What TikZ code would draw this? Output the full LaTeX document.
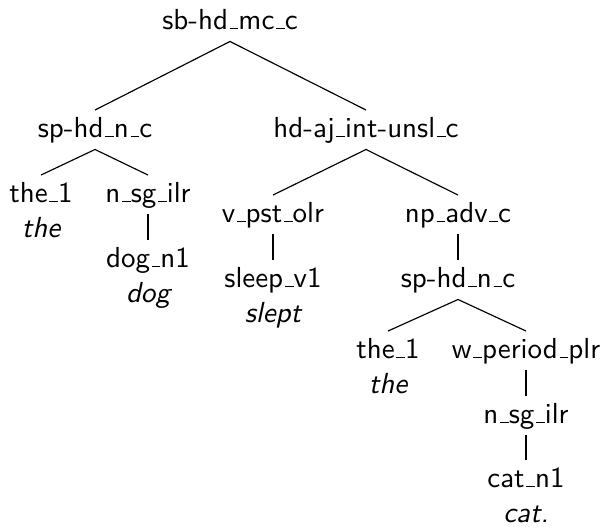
\documentclass[tikz,border=0pt]{standalone}
\usepackage{tikz}
\usetikzlibrary{positioning}

\newcommand\us{\leavevmode\kern.06em\vbox{\hrule width.3em}}

\begin{document}
\begin{tikzpicture}[
  x=0.3448pt, y=-0.3448pt,
  tnode/.style={
    font=\sffamily, anchor=base, inner xsep=0pt, inner ysep=2pt,
    text height=7.1pt, text depth=2.1pt
  },
  word/.style={
    font=\sffamily\itshape, inner xsep=0pt, inner ysep=0pt,
    text height=7.1pt, text depth=2.1pt
  },
  branch/.style={line width=.4pt}
]
\useasboundingbox (0,0) rectangle (604,526);

\node (root)  [tnode] at (230,29)  {sb-hd\us mc\us c};

\node (sphdA) [tnode] at (95,137)  {sp-hd\us n\us c};
\node (hdaj)  [tnode] at (366,137) {hd-aj\us int-unsl\us c};

\node (theA)  [tnode] at (41,202)  {the\us 1};
\node (wtheA) [word, below=0.8pt of theA] {the};
\node (nsgA)  [tnode] at (148,202) {n\us sg\us ilr};
\node (dogA)  [tnode] at (148,267) {dog\us n1};
\node (wdog)  [word, below=0.8pt of dogA] {dog};

\node (vpst)  [tnode] at (273,222) {v\us pst\us olr};
\node (sleep) [tnode] at (273,287) {sleep\us v1};
\node (wslept)[word, below=0.8pt of sleep] {slept};

\node (npadv) [tnode] at (458,222) {np\us adv\us c};
\node (sphdB) [tnode] at (458,287) {sp-hd\us n\us c};

\node (theB)  [tnode] at (388,358) {the\us 1};
\node (wtheB) [word, below=0.8pt of theB] {the};
\node (wper)  [tnode] at (526,358) {w\us period\us plr};
\node (nsgB)  [tnode] at (526,423) {n\us sg\us ilr};
\node (catB)  [tnode] at (526,487) {cat\us n1};
\node (wcat)  [word, below=0.8pt of catB] {cat.};

\draw[branch] (root.south) -- (sphdA.north);
\draw[branch] (root.south) -- (hdaj.north);
\draw[branch] (sphdA.south) -- (theA.north);
\draw[branch] (sphdA.south) -- (nsgA.north);
\draw[branch] (nsgA.south) -- (dogA.north);
\draw[branch] (hdaj.south) -- (vpst.north);
\draw[branch] (hdaj.south) -- (npadv.north);
\draw[branch] (vpst.south) -- (sleep.north);
\draw[branch] (npadv.south) -- (sphdB.north);
\draw[branch] (sphdB.south) -- (theB.north);
\draw[branch] (sphdB.south) -- (wper.north);
\draw[branch] (wper.south) -- (nsgB.north);
\draw[branch] (nsgB.south) -- (catB.north);
\end{tikzpicture}
\end{document}
